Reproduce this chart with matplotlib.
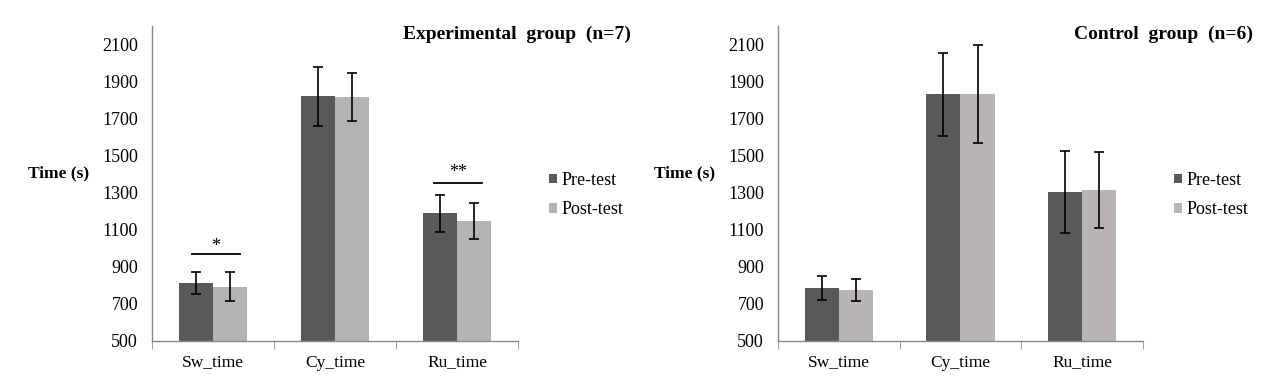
import numpy as np
import matplotlib
matplotlib.use("Agg")
import matplotlib.pyplot as plt

categories = ["Sw_time", "Cy_time", "Ru_time"]
series = ["Pre-test", "Post-test"]

exp_pre = [810, 1822, 1190]
exp_pre_err = [60, 160, 100]
exp_post = [792, 1815, 1149]
exp_post_err = [80, 130, 98]

ctl_pre = [783, 1831, 1302]
ctl_pre_err = [65, 225, 222]
ctl_post = [774, 1831, 1316]
ctl_post_err = [58, 265, 205]

yticks = [500, 700, 900, 1100, 1300, 1500, 1700, 1900, 2100]

plt.rcParams["font.family"] = ["Liberation Serif", "DejaVu Serif"]

fig = plt.figure(figsize=(12.71, 3.77), dpi=100)

pre_color = "#595959"
post_colors = ["#b3b3b3", "#b7b3b7"]


def draw_panel(ax, pre, pre_err, post, post_err, post_color):
    x = np.arange(len(categories))
    w = 0.28
    ax.bar(x - w / 2, pre, w, color=pre_color, label=series[0])
    ax.bar(x + w / 2, post, w, color=post_color, label=series[1])
    ax.errorbar(x - w / 2, pre, yerr=pre_err, fmt="none", ecolor="black",
                elinewidth=1.2, capsize=3.5, capthick=1.2)
    ax.errorbar(x + w / 2, post, yerr=post_err, fmt="none", ecolor="black",
                elinewidth=1.2, capsize=3.5, capthick=1.2)
    ax.set_xlim(-0.5, 2.5)
    ax.set_ylim(500, 2200)
    ax.set_yticks(yticks)
    ax.set_xticks(x)
    ax.set_xticklabels(categories, fontsize=12.5)
    ax.set_xticks([-0.5, 0.5, 1.5, 2.5], minor=True)
    ax.tick_params(axis="x", which="major", length=0, pad=10)
    ax.tick_params(axis="x", which="minor", length=5.5, color="#888888", direction="out")
    ax.tick_params(axis="y", length=0, labelsize=13, pad=10)
    for s in ["top", "right"]:
        ax.spines[s].set_visible(False)
    for s in ["left", "bottom"]:
        ax.spines[s].set_color("#888888")
        ax.spines[s].set_linewidth(1.0)
    ax.legend(loc="center left", bbox_to_anchor=(1.04, 0.463), frameon=False,
              fontsize=13, handlelength=0.45, handleheight=0.45,
              handletextpad=0.25, labelspacing=0.67)


ax1 = fig.add_axes([0.1196, 0.0963, 0.2880, 0.8342])
draw_panel(ax1, exp_pre, exp_pre_err, exp_post, exp_post_err, post_colors[0])
ax2 = fig.add_axes([0.6121, 0.0963, 0.2872, 0.8342])
draw_panel(ax2, ctl_pre, ctl_pre_err, ctl_post, ctl_post_err, post_colors[1])

# significance markers (experimental group)
ax1.plot([-0.172, 0.221], [967, 967], color="black", lw=1.3)
ax1.text(0.025, 962, "*", ha="center", va="bottom", fontsize=13)
ax1.plot([1.811, 2.205], [1354, 1354], color="black", lw=1.3)
ax1.text(2.008, 1363, "**", ha="center", va="bottom", fontsize=13)

fig.text(0.022, 0.541, "Time (s)", fontsize=12.5, fontweight="bold", va="center")
fig.text(0.5146, 0.541, "Time (s)", fontsize=12.5, fontweight="bold", va="center")

fig.text(0.496, 0.91, "Experimental  group  (n=7)", fontsize=14, fontweight="bold",
         ha="right", va="center")
fig.text(0.986, 0.91, "Control  group  (n=6)", fontsize=14, fontweight="bold",
         ha="right", va="center")

fig.savefig("out.png", dpi=100)
